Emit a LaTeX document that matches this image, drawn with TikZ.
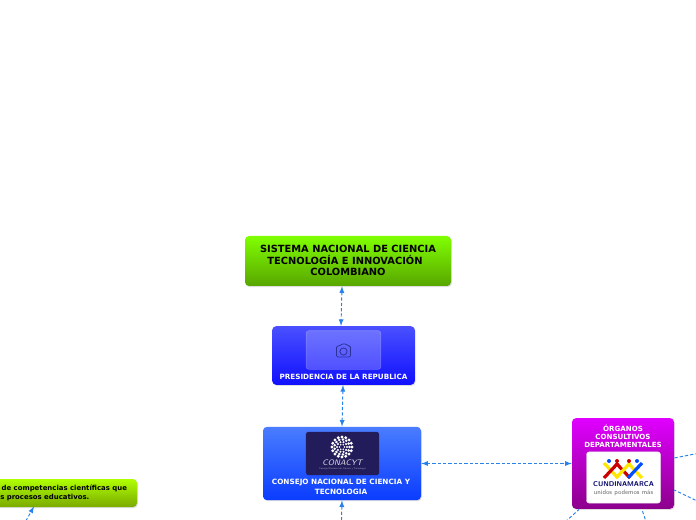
\documentclass[tikz,border=0pt]{standalone}
\usepackage{fontspec}
\setmainfont{DejaVu Sans}
\usepackage{xcolor}
\usetikzlibrary{shadows}
\definecolor{linkblue}{RGB}{40,130,235}
\definecolor{titletop}{RGB}{128,255,0}
\definecolor{titlebot}{RGB}{88,165,0}
\definecolor{limetop}{RGB}{176,255,0}
\definecolor{limebot}{RGB}{122,170,0}
\definecolor{prestop}{RGB}{74,80,255}
\definecolor{presbot}{RGB}{16,16,255}
\definecolor{conatop}{RGB}{74,125,255}
\definecolor{conabot}{RGB}{10,60,255}
\definecolor{orgtop}{RGB}{224,0,255}
\definecolor{orgbot}{RGB}{140,0,140}
\definecolor{conanavy}{RGB}{34,28,90}
\begin{document}
\begin{tikzpicture}[x=0.75pt,y=-0.75pt,
  topicbox/.style={rectangle, rounded corners=3pt, inner sep=0pt,
    drop shadow={shadow xshift=0.6pt, shadow yshift=-0.8pt, opacity=0.25}},
  picbox/.style={rectangle, rounded corners=2pt, inner sep=0pt},
  whitelabel/.style={text=white, font=\bfseries\fontsize{5.4pt}{7pt}\selectfont, align=center, inner sep=0pt},
  blacklabel/.style={text=black, font=\bfseries\fontsize{7.4pt}{8.6pt}\selectfont, align=center, inner sep=0pt},
  arr/.style={<->, >=latex, linkblue, line width=0.7pt, dash pattern=on 2.4pt off 1.6pt}
]
\useasboundingbox (0,0) rectangle (696,520);
\clip (0,0) rectangle (696,520);
\fill[white] (0,0) rectangle (696,520);

% boxes
\node[topicbox, top color=titletop, bottom color=titlebot, minimum width=154.5pt, minimum height=37.5pt] (sistema) at (348,261) {};
\node[topicbox, top color=prestop, bottom color=presbot, minimum width=107pt, minimum height=44pt] (presidencia) at (343.5,355.5) {};
\node[topicbox, top color=conatop, bottom color=conabot, minimum width=118.5pt, minimum height=55pt] (consejo) at (342,463.5) {};
\node[topicbox, top color=orgtop, bottom color=orgbot, minimum width=76.5pt, minimum height=68pt] (organos) at (623,463.5) {};
\node[topicbox, top color=limetop, bottom color=limebot, minimum width=135pt, minimum height=21pt] (competencias) at (47,493) {};

% labels
\node[blacklabel] (sistematxt) at (348,260.5) {SISTEMA NACIONAL DE CIENCIA\\TECNOLOGÍA E INNOVACIÓN\hspace{4.5pt}\mbox{}\\COLOMBIANO};
\node[whitelabel] (presidenciatxt) at (343.5,376.5) {PRESIDENCIA DE LA REPUBLICA};
\node[whitelabel, font=\bfseries\fontsize{5.45pt}{7.6pt}\selectfont] (consejotxt) at (341,487) {CONSEJO NACIONAL DE CIENCIA Y\\TECNOLOGIA};
\node[whitelabel, font=\bfseries\fontsize{5.3pt}{6pt}\selectfont] (organostxt) at (623,436) {ÓRGANOS\\CONSULTIVOS\\DEPARTAMENTALES};
\node[blacklabel, anchor=west, align=left, font=\bfseries\fontsize{5.2pt}{7.2pt}\selectfont] (competenciastxt) at (0,493) {\hspace{1pt}de competencias científicas que\\s procesos educativos.};

% pictures
\node[picbox, fill=white, fill opacity=0.22, draw=white, draw opacity=0.25, line width=0.4pt, minimum width=56pt, minimum height=29pt] (foto) at (343.5,350) {};
\begin{scope}[shift={(343.5,351)}, draw=black!40!prestop, line width=0.6pt]
  \draw[rounded corners=1pt] (-7,-5) -- (-3.5,-5) -- (-2,-7) -- (3,-7) -- (4.5,-5) -- (7,-5) -- (7,6) -- (-7,6) -- cycle;
  \draw (0,0.5) circle (3.6);
\end{scope}

\node[picbox, fill=conanavy, minimum width=55pt, minimum height=32.5pt] (logoconacyt) at (342.5,453.5) {};
\coordinate (sello) at (342,447);
\foreach \r/\n/\d in {10/16/1.6, 7.5/13/1.4, 5/10/1.2, 2.5/6/0.9}
  \foreach \i in {1,...,\n}
    \fill[white] (sello) ++({360*\i/\n}:\r) circle (\d);
\node[text=white!85!conanavy, font=\sffamily\itshape\fontsize{6pt}{6pt}\selectfont, inner sep=0pt] (conacyttxt) at (342.5,463) {CONACYT};
\node[text=white!55!conanavy, font=\sffamily\fontsize{1.9pt}{2pt}\selectfont, inner sep=0pt] (conacytsub) at (342.5,469) {Consejo Nacional de Ciencia y Tecnología};

\node[picbox, fill=white, draw=black!12, line width=0.3pt, minimum width=55.5pt, minimum height=38.5pt] (logocundi) at (623.5,477.5) {};
\foreach \x/\cola/\colb in {611/yellow!90!orange/red!80!black, 623/red!80!black/yellow!90!orange, 635/yellow!90!orange/blue!70!cyan}{
  \draw[line width=2.4pt, \cola] (\x-7,463) -- (\x+7,478);
  \draw[line width=2.4pt, \colb] (\x+7,463) -- (\x-7,478);
}
\foreach \x/\cola in {609/blue!70!cyan, 617/red!80!black, 629/red!80!black, 637/blue!70!cyan}
  \fill[\cola] (\x,461) circle (2);
\node[text=blue!40!black, font=\sffamily\bfseries\fontsize{5.2pt}{5pt}\selectfont, inner sep=0pt] (cunditxt) at (623.5,484.5) {CUNDINAMARCA};
\node[text=black!60, font=\sffamily\fontsize{4.8pt}{5pt}\selectfont, inner sep=0pt] (unidostxt) at (623.5,492.5) {unidos podemos más};

% free ends below and to the right of the page
\coordinate (c1) at (341,540);
\coordinate (c2) at (720,449);
\coordinate (c3) at (720,512);
\coordinate (c4) at (652,540);
\coordinate (c5) at (545,540);
\coordinate (c6) at (15,540);

% links
\draw[arr] (sistema.south -| 342,0) -- (presidencia.north -| 341,0);
\draw[arr] (presidencia.south -| 343,0) -- (consejo.north -| 342,0);
\draw[arr] (consejo.south -| 342,0) -- (c1);
\draw[arr] (consejo.east) -- (organos.west);
\draw[arr, <-] (c2) -- (organos.east |- 0,458);
\draw[arr, <-] (c3) -- (organos.east |- 0,490);
\draw[arr, <-] (c4) -- (642,509.5);
\draw[arr, <-] (c5) -- (579,509.5);
\draw[arr] (c6) -- (34,506.5);

\end{tikzpicture}
\end{document}
